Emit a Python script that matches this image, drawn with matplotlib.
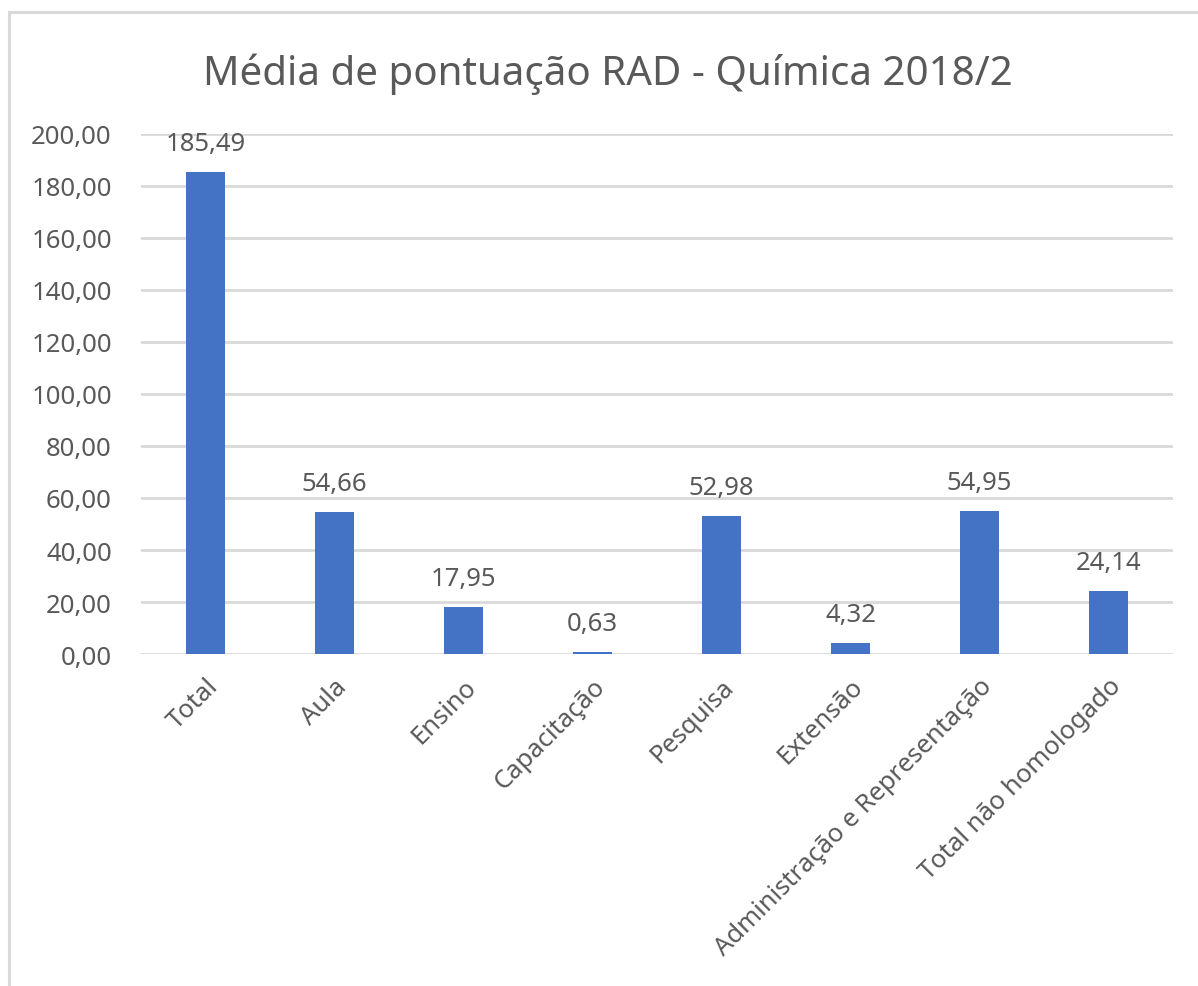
import matplotlib
matplotlib.use("Agg")
import matplotlib.pyplot as plt
from matplotlib.patches import Rectangle

categories = ["Total", "Aula", "Ensino", "Capacitação", "Pesquisa", "Extensão",
              "Administração e Representação", "Total não homologado"]
values = [185.49, 54.66, 17.95, 0.63, 52.98, 4.32, 54.95, 24.14]
yticks = [0, 20, 40, 60, 80, 100, 120, 140, 160, 180, 200]
title = "Média de pontuação RAD - Química 2018/2"

plt.rcParams['font.family'] = ['Noto Sans', 'DejaVu Sans']
text_color = "#595959"
bar_color = "#4472C4"
grid_color = "#D9D9D9"
fs = 18.5

fig = plt.figure(figsize=(11.98, 9.87), dpi=100)
fig.patches.append(Rectangle((8.5/1198, -0.1), 1.2, (987-12.5)/987 + 0.1,
                             transform=fig.transFigure, fill=False,
                             edgecolor="#D9D9D9", linewidth=2.2, zorder=0))

ax = fig.add_axes([141/1198, 1-655/987, (1173-141)/1198, (655-135)/987])
x = list(range(len(categories)))
ax.bar(x, values, width=0.31, color=bar_color, zorder=3)
ax.set_xlim(-0.5, len(categories)-0.5)
ax.set_ylim(0, 200)
ax.set_yticks(yticks)
ax.set_yticklabels([f"{v:.2f}".replace(".", ",") for v in yticks],
                   fontsize=fs, color=text_color)
ax.yaxis.grid(True, color=grid_color, linewidth=2, zorder=0)
ax.set_axisbelow(True)
for s in ax.spines.values():
    s.set_visible(False)
ax.tick_params(axis='y', length=0, pad=21)
ax.tick_params(axis='x', length=0, pad=14)
ax.set_xticks(x)
ax.set_xticklabels(categories, rotation=45, ha='right', va='top',
                   rotation_mode='anchor', fontsize=fs, color=text_color)

for xi, v in zip(x, values):
    ax.annotate(f"{v:.2f}".replace(".", ","), (xi, v), xytext=(0, 11.5),
                textcoords='offset points', ha='center', va='bottom',
                fontsize=fs, color=text_color)

fig.text(608/1198, 1-74/987, title, ha='center', va='center',
         fontsize=29, color=text_color)

fig.savefig("out.png", dpi=100)
